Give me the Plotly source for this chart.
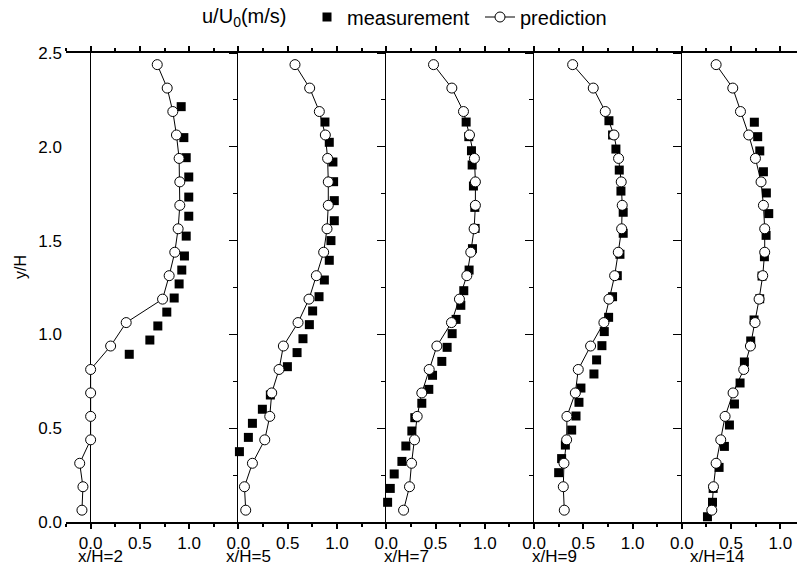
import plotly.graph_objects as go

# y/H levels of the predicted profiles (same for every station)
y_pred = [0.063, 0.188, 0.313, 0.438, 0.563, 0.688, 0.813, 0.938, 1.063, 1.188,
          1.313, 1.438, 1.563, 1.688, 1.813, 1.938, 2.063, 2.188, 2.313, 2.438]

# x/H = 2
pred_2 = [-0.088, -0.078, -0.111, 0.0, 0.0, 0.0, 0.0, 0.203, 0.361, 0.730,
          0.797, 0.854, 0.888, 0.905, 0.905, 0.898, 0.871, 0.834, 0.777, 0.676]
meas_y_2 = [0.894, 0.970, 1.045, 1.119, 1.194, 1.269, 1.343, 1.418, 1.524, 1.630,
            1.732, 1.839, 1.942, 2.049, 2.214]
meas_u_2 = [0.392, 0.601, 0.682, 0.773, 0.848, 0.898, 0.925, 0.952, 0.970, 0.996,
            0.996, 0.996, 0.970, 0.946, 0.919]

# x/H = 5
pred_5 = [0.074, 0.061, 0.142, 0.267, 0.318, 0.338, 0.412, 0.456, 0.605, 0.716,
          0.791, 0.865, 0.899, 0.912, 0.912, 0.905, 0.882, 0.821, 0.723, 0.574]
meas_y_5 = [0.375, 0.451, 0.526, 0.601, 0.677, 0.828, 0.903, 0.977, 1.052, 1.125,
            1.201, 1.290, 1.395, 1.500, 1.606, 1.713, 1.814, 1.919, 2.024, 2.132]
meas_u_5 = [0.010, 0.101, 0.142, 0.243, 0.324, 0.497, 0.595, 0.655, 0.720, 0.753,
            0.818, 0.872, 0.922, 0.939, 0.973, 0.973, 0.966, 0.959, 0.922, 0.878]

# x/H = 7
pred_7 = [0.176, 0.236, 0.257, 0.287, 0.314, 0.361, 0.436, 0.514, 0.662, 0.743,
          0.818, 0.858, 0.892, 0.905, 0.905, 0.895, 0.845, 0.784, 0.666, 0.480]
meas_y_7 = [0.028, 0.105, 0.179, 0.256, 0.323, 0.405, 0.485, 0.556, 0.633, 0.707,
            0.782, 0.856, 0.931, 1.004, 1.080, 1.155, 1.233, 1.343, 1.457, 1.565,
            1.677, 1.791, 1.903, 1.979, 2.054, 2.132]
meas_u_7 = [-0.027, 0.014, 0.041, 0.081, 0.159, 0.199, 0.260, 0.290, 0.361, 0.432,
            0.470, 0.564, 0.618, 0.669, 0.709, 0.757, 0.787, 0.841, 0.875, 0.902,
            0.899, 0.885, 0.872, 0.865, 0.838, 0.811]

# x/H = 9
pred_9 = [0.307, 0.297, 0.304, 0.331, 0.334, 0.419, 0.449, 0.574, 0.709, 0.760,
          0.818, 0.855, 0.889, 0.895, 0.885, 0.858, 0.811, 0.723, 0.601, 0.392]
meas_y_9 = [0.263, 0.338, 0.410, 0.490, 0.565, 0.638, 0.714, 0.789, 0.864, 0.940,
            1.015, 1.091, 1.201, 1.313, 1.427, 1.539, 1.651, 1.764, 1.876, 1.988,
            2.063, 2.139]
meas_u_9 = [0.250, 0.280, 0.318, 0.382, 0.426, 0.456, 0.476, 0.608, 0.635, 0.689,
            0.713, 0.757, 0.797, 0.845, 0.872, 0.905, 0.905, 0.882, 0.865, 0.831,
            0.797, 0.760]

# x/H = 14
pred_14 = [0.304, 0.321, 0.348, 0.395, 0.439, 0.520, 0.628, 0.696, 0.743, 0.784,
           0.821, 0.841, 0.841, 0.828, 0.804, 0.747, 0.679, 0.595, 0.517, 0.348]
meas_y_14 = [0.028, 0.105, 0.179, 0.291, 0.403, 0.517, 0.629, 0.741, 0.853, 0.965,
             1.077, 1.190, 1.311, 1.414, 1.528, 1.644, 1.754, 1.867, 1.978, 2.054,
             2.131]
meas_u_14 = [0.260, 0.311, 0.318, 0.378, 0.432, 0.483, 0.534, 0.591, 0.635, 0.699,
             0.733, 0.790, 0.814, 0.838, 0.855, 0.882, 0.858, 0.828, 0.791, 0.770,
             0.736]

station_labels = ["x/H=2", "x/H=5", "x/H=7", "x/H=9", "x/H=14"]
preds = [pred_2, pred_5, pred_7, pred_9, pred_14]
meas_y = [meas_y_2, meas_y_5, meas_y_7, meas_y_9, meas_y_14]
meas_u = [meas_u_2, meas_u_5, meas_u_7, meas_u_9, meas_u_14]

x_ranges = [[-0.25, 1.5], [0, 1.5], [0, 1.5], [0, 1.5], [0, 1.25]]
label_px = [76, 224, 382, 530, 688]

FONT = "Liberation Sans, Arial, sans-serif"
# the page body adds an 8px margin, so the figure is 8px smaller than the window
OFF = 8
W, H = 805 - OFF, 567 - OFF
ML, MR, MT, MB = 66 - OFF, 0, 53 - OFF, H - (522 - OFF)
plot_w = W - ML - MR
plot_h = H - MT - MB


def px_x(px):
    return (px - OFF - ML) / plot_w


def px_y(py):
    return (H - MB - (py - OFF)) / plot_h


# panel domains proportional to each panel's data span
spans = [r[1] - r[0] for r in x_ranges]
total = sum(spans)
edges = [0]
for s in spans:
    edges.append(min(1.0, edges[-1] + s / total))

fig = go.Figure()

for i in range(5):
    xa = "x" if i == 0 else "x%d" % (i + 1)
    ya = "y" if i == 0 else "y%d" % (i + 1)
    fig.add_trace(go.Scatter(
        x=meas_u[i], y=meas_y[i], xaxis=xa, yaxis=ya, mode="markers",
        name="measurement", legendgroup="m", showlegend=(i == 0),
        marker=dict(symbol="square", size=9, color="black"),
        cliponaxis=False))
for i in range(5):
    xa = "x" if i == 0 else "x%d" % (i + 1)
    ya = "y" if i == 0 else "y%d" % (i + 1)
    fig.add_trace(go.Scatter(
        x=preds[i], y=y_pred, xaxis=xa, yaxis=ya, mode="lines+markers",
        name="prediction", legendgroup="p", showlegend=(i == 0),
        line=dict(color="black", width=1),
        marker=dict(symbol="circle", size=10, color="white",
                    line=dict(color="black", width=1)),
        cliponaxis=False))

tickfont = dict(family=FONT, size=17, color="black")

layout = dict(
    width=W, height=H,
    margin=dict(l=ML, r=MR, t=MT, b=MB, autoexpand=False),
    paper_bgcolor="white", plot_bgcolor="white",
    font=dict(family=FONT, size=17, color="black"),
    showlegend=True,
    legend=dict(orientation="h", x=px_x(307), xanchor="left",
                y=px_y(17), yanchor="middle",
                font=dict(family=FONT, size=20, color="black"),
                entrywidth=128, entrywidthmode="pixels",
                bgcolor="rgba(0,0,0,0)"),
)

for i in range(5):
    xname = "xaxis" if i == 0 else "xaxis%d" % (i + 1)
    yname = "yaxis" if i == 0 else "yaxis%d" % (i + 1)
    xa = "x" if i == 0 else "x%d" % (i + 1)
    ya = "y" if i == 0 else "y%d" % (i + 1)
    xdict = dict(
        domain=[edges[i], edges[i + 1]], range=x_ranges[i], anchor=ya,
        side="bottom", layer="above traces",
        showline=True, linecolor="black", linewidth=2, mirror="ticks",
        ticks="outside", ticklen=5, tickwidth=2, tickcolor="black",
        tickvals=[0, 0.5, 1.0], ticktext=["0.0", "0.5", "1.0"],
        minor=dict(ticks="outside", ticklen=3, tickwidth=2, tickcolor="black",
                   tickmode="linear", tick0=0, dtick=0.25),
        showgrid=False, zeroline=False, tickfont=tickfont)
    if i == 0:
        # vertical line at u = 0 in the first panel
        xdict.update(zeroline=True, zerolinecolor="black", zerolinewidth=1.3)
    layout[xname] = xdict
    ydict = dict(
        range=[0, 2.5], anchor=xa, showline=True, linecolor="black",
        linewidth=1.3, layer="above traces",
        ticks="outside", ticklen=8, tickcolor="black",
        tickvals=[0, 0.5, 1.0, 1.5, 2.0, 2.5],
        ticktext=["0.0", "0.5", "1.0", "1.5", "2.0", "2.5"],
        minor=dict(ticks="outside", ticklen=4, tickcolor="black",
                   tickmode="linear", tick0=0, dtick=0.25),
        showgrid=False, zeroline=False, tickfont=tickfont)
    if i == 0:
        # labels only on the left edge of the first panel
        ydict.update(showline=False, ticks="", minor=dict(ticks=""),
                     ticklabelstandoff=3)
    else:
        ydict.update(showticklabels=False)
    layout[yname] = ydict

fig.update_layout(**layout)

annotations = []
for i in range(5):
    annotations.append(dict(
        text=station_labels[i], xref="paper", yref="paper",
        x=px_x(label_px[i]), y=px_y(556),
        xanchor="left", yanchor="middle", showarrow=False,
        font=dict(family=FONT, size=17, color="black")))
annotations.append(dict(
    text="y/H", xref="paper", yref="paper", x=px_x(20), y=px_y(267),
    textangle=-90, showarrow=False, xanchor="center", yanchor="middle",
    font=dict(family=FONT, size=16, color="black")))
annotations.append(dict(
    text="u/U<sub>0</sub>(m/s)", xref="paper", yref="paper",
    x=px_x(200), y=px_y(17), xanchor="left", yanchor="middle", showarrow=False,
    font=dict(family=FONT, size=20, color="black")))
fig.update_layout(annotations=annotations)

fig.write_html("out.html")
